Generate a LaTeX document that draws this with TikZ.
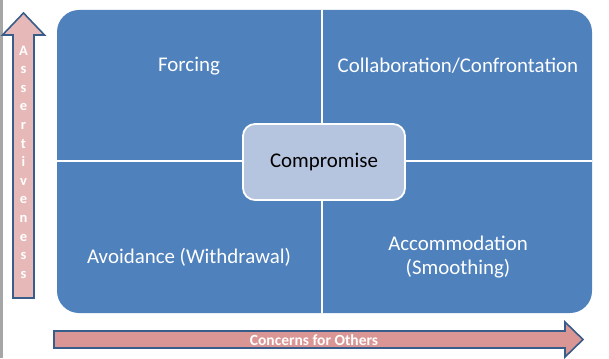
\documentclass[tikz,border=0pt]{standalone}
\usepackage{fontspec}
\setmainfont{Carlito}
\definecolor{panelblue}{RGB}{79,129,189}
\definecolor{compfill}{RGB}{181,196,223}
\definecolor{arrowedge}{RGB}{56,93,138}
\definecolor{vpink}{RGB}{230,185,184}
\definecolor{hpink}{RGB}{217,150,148}
\definecolor{leftgray}{RGB}{166,166,166}
\begin{document}
\begin{tikzpicture}[x=1pt,y=-1pt,
  quadlabel/.style={text=white, font=\fontsize{20.9}{24}\selectfont, align=center, inner sep=0pt},
  arrowshape/.style={draw=arrowedge, line width=1.6pt, line join=miter},
  divider/.style={draw=white, line width=2pt}]
\useasboundingbox (0,0) rectangle (609,358);
% left gray rule
\fill[leftgray] (0,0) rectangle (2.5,358);
% main panel
\fill[panelblue, rounded corners=22pt] (57,10) rectangle (592,313);
\draw[divider] (322,10) -- (322,313);
\draw[divider] (57,161) -- (592,161);
% compromise box
\node[draw=white, line width=1.8pt, fill=compfill, rounded corners=12pt,
  minimum width=162pt, minimum height=76pt, inner sep=0pt,
  font=\fontsize{20.9}{24}\selectfont] (comp) at (324,162) {Compromise};
% quadrant labels
\node[quadlabel] (forcing) at (189,66) {Forcing};
\node[quadlabel] (collab) at (458,66) {Collaboration/Confrontation};
\node[quadlabel] (avoid) at (189,257) {Avoidance (Withdrawal)};
\node[quadlabel] (accom) at (458,257) {Accommodation\\(Smoothing)};
% vertical arrow
\draw[arrowshape, fill=vpink] (13,298) -- (13,35) -- (2.5,35) -- (23.5,13) -- (44.5,35) -- (34,35) -- (34,298) -- cycle;
\node[text=white, font=\bfseries\fontsize{14.5}{18.6}\selectfont, align=center, inner sep=0pt] (assert) at (23.5,162)
  {A\\s\\s\\e\\r\\t\\i\\v\\e\\n\\e\\s\\s};
% horizontal arrow
\draw[arrowshape, fill=hpink] (54,331) -- (565,331) -- (565,322) -- (583,339.5) -- (565,357) -- (565,348) -- (54,348) -- cycle;
\node[text=white, font=\bfseries\fontsize{15.5}{17}\selectfont, inner sep=0pt] (concern) at (314,340) {Concerns for Others};
\end{tikzpicture}
\end{document}
